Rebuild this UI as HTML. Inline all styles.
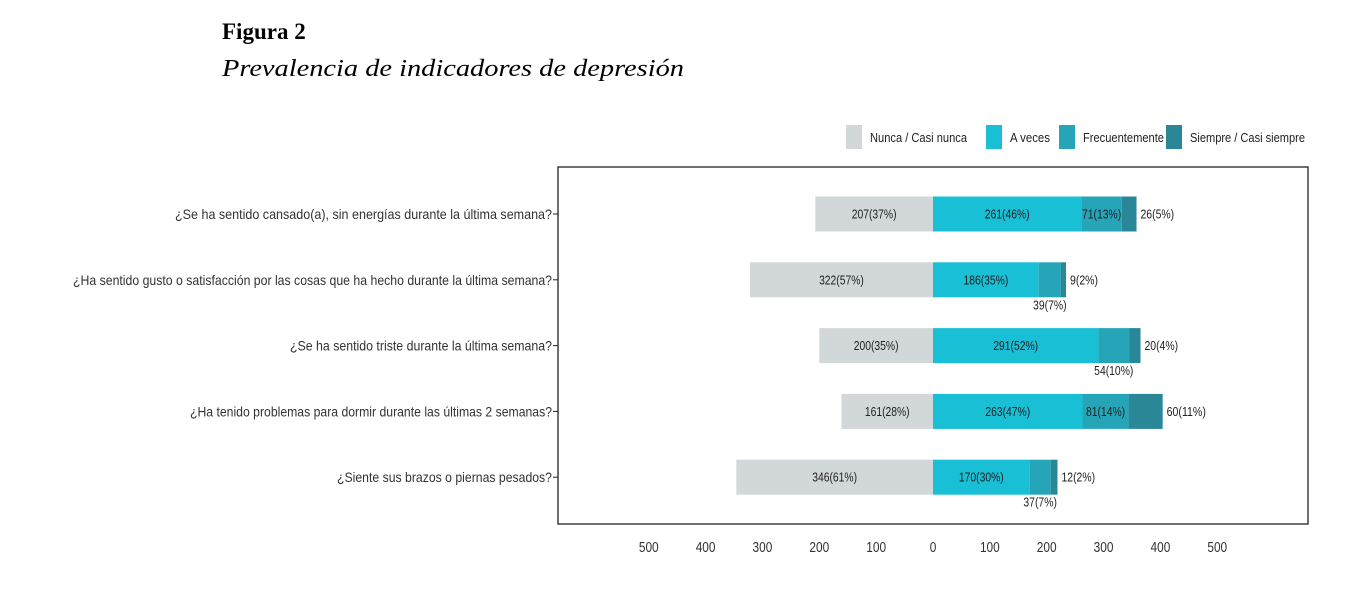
<!DOCTYPE html>
<html><head><meta charset="utf-8">
<style>
html,body{margin:0;padding:0;background:#fff;}
svg{display:block;}
text{font-family:"Liberation Sans",sans-serif;}
</style></head>
<body>
<svg id="chart" width="1363" height="611" xmlns="http://www.w3.org/2000/svg">
  <text x="222" y="39" font-weight="bold" font-size="23" style="font-family:'Liberation Serif',serif">Figura 2</text>
  <text x="222" y="76" font-size="24" font-style="italic" style="font-family:'Liberation Serif',serif" textLength="462" lengthAdjust="spacingAndGlyphs">Prevalencia de indicadores de depresión</text>
  <g id="legend"></g>
  <rect x="558" y="167" width="750" height="357" fill="none" stroke="#222" stroke-width="1.3"/>
  <g id="bars"></g>
  <g id="axis"></g>
</svg>
<script>
const categories = [
 "¿Se ha sentido cansado(a), sin energías durante la última semana?",
 "¿Ha sentido gusto o satisfacción por las cosas que ha hecho durante la última semana?",
 "¿Se ha sentido triste durante la última semana?",
 "¿Ha tenido problemas para dormir durante las últimas 2 semanas?",
 "¿Siente sus brazos o piernas pesados?"
];
const nunca = [207, 322, 200, 161, 346];
const aveces = [261, 186, 291, 263, 170];
const frecuente = [71, 39, 54, 81, 37];
const siempre = [26, 9, 20, 60, 12];
const pctNunca = [37, 57, 35, 28, 61];
const pctAveces = [46, 35, 52, 47, 30];
const pctFrec = [13, 7, 10, 14, 7];
const pctSiempre = [5, 2, 4, 11, 2];
const tickValues = [-500,-400,-300,-200,-100,0,100,200,300,400,500];
const tickLabels = ["500","400","300","200","100","0","100","200","300","400","500"];
const seriesNames = ["Nunca / Casi nunca","A veces","Frecuentemente","Siempre / Casi siempre"];

const colors = ["#d2d8da","#18bfd5","#26a5b8","#2a8798"];
const labelLens = [377,479,262,362,215];
const NS = "http://www.w3.org/2000/svg";
const x = v => 933 + v * 0.5685;
const y = i => 214 + i * 65.8;
const barH = 35;
function mk(tag, attrs, parent, txt){
  const e = document.createElementNS(NS, tag);
  for (const k in attrs) e.setAttribute(k, attrs[k]);
  if (txt !== undefined) e.textContent = txt;
  parent.appendChild(e);
  return e;
}
const bars = document.getElementById('bars');
const axis = document.getElementById('axis');
const legend = document.getElementById('legend');

const legX = [846, 986, 1059, 1166];
const legW = [97, 40, 81, 115];
seriesNames.forEach((n, k) => {
  const r = mk('rect', {x: legX[k], y: 125, width: 16, height: 24, fill: colors[k]}, legend);
  
  
  const t = mk('text', {x: legX[k] + 24, y: 142, 'font-size': 13, fill: '#222', textLength: legW[k], lengthAdjust: 'spacingAndGlyphs'}, legend, n);
  
  
});

tickValues.forEach((v, k) => {
  const t = mk('text', {x: x(v), y: 552, 'font-size': 14.5, fill: '#333', 'text-anchor': 'middle', textLength: tickLabels[k].length * 6.6, lengthAdjust: 'spacingAndGlyphs'}, axis, tickLabels[k]);
  
  
});

function lbl(cx, cy, s, anchor){
  const t = mk('text', {x: cx, y: cy + 4.5, 'font-size': 13, fill: '#222', 'text-anchor': anchor || 'middle', textLength: s.length * 5.6, lengthAdjust: 'spacingAndGlyphs'}, bars, s);
  
  
}

categories.forEach((c, i) => {
  const cy = y(i);
  const t = mk('text', {x: 552, y: cy + 5, 'font-size': 14, fill: '#333', 'text-anchor': 'end', textLength: labelLens[i], lengthAdjust: 'spacingAndGlyphs'}, axis, c);
  
  
  const tk = mk('line', {x1: 553, x2: 558, y1: cy, y2: cy, stroke: '#222'}, axis);
  
  

  const segs = [[-nunca[i], 0], [0, aveces[i]], [aveces[i], aveces[i] + frecuente[i]], [aveces[i] + frecuente[i], aveces[i] + frecuente[i] + siempre[i]]];
  segs.forEach((s, k) => {
    const r = mk('rect', {x: x(s[0]), y: cy - barH / 2, width: x(s[1]) - x(s[0]), height: barH, fill: colors[k]}, bars);
    
    
  });
  lbl((x(-nunca[i]) + x(0)) / 2, cy, nunca[i] + '(' + pctNunca[i] + '%)');
  lbl((x(0) + x(aveces[i])) / 2, cy, aveces[i] + '(' + pctAveces[i] + '%)');
  const fc = (x(segs[2][0]) + x(segs[2][1])) / 2;
  const fs = frecuente[i] + '(' + pctFrec[i] + '%)';
  if (frecuente[i] >= 60) lbl(fc, cy, fs); else lbl(fc, cy + 25, fs);
  lbl(x(segs[3][1]) + 4, cy, siempre[i] + '(' + pctSiempre[i] + '%)', 'start');
});
</script>
</body></html>
